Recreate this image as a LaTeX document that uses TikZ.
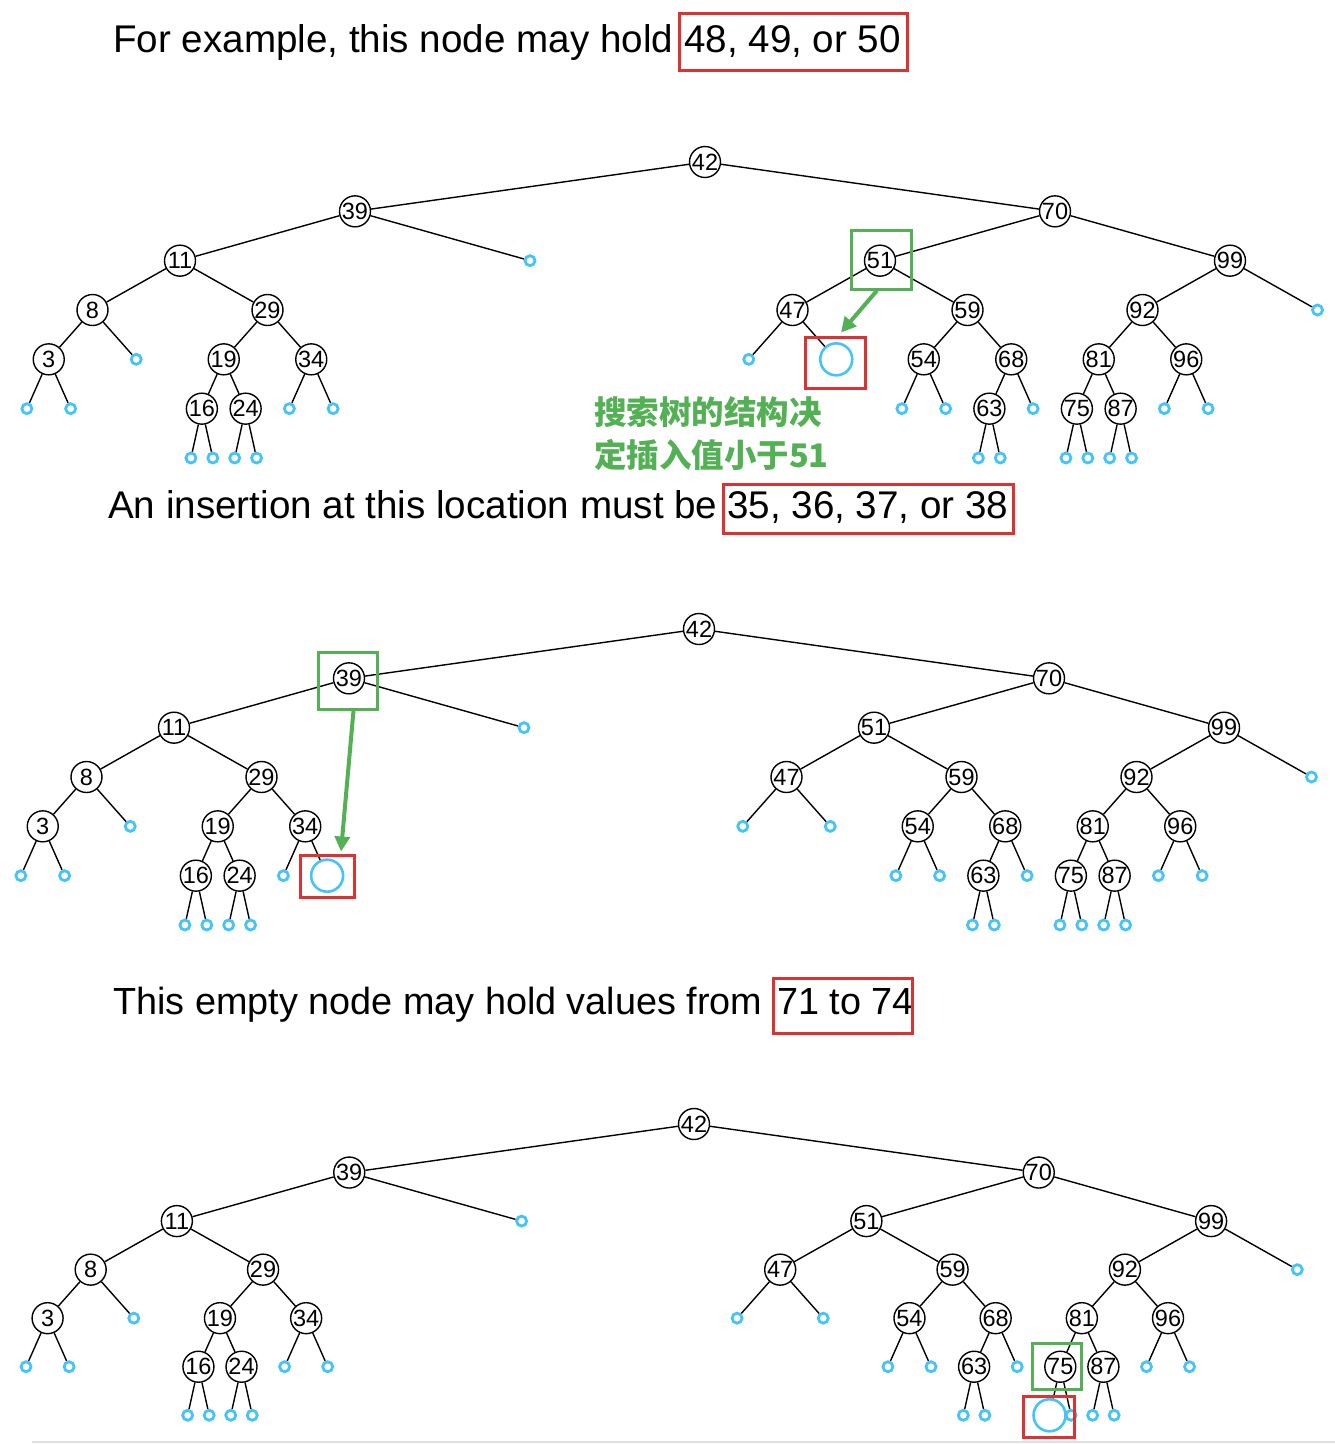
\documentclass[tikz,border=0pt]{standalone}
\usepackage{fontspec}
\setmainfont{Liberation Sans}
\newfontfamily\cjk{Noto Sans CJK SC}
\usetikzlibrary{arrows.meta}
\definecolor{leafc}{RGB}{70,196,250}
\definecolor{grn}{RGB}{84,176,84}
\definecolor{rd}{RGB}{220,50,50}
\tikzset{
  nd/.style={circle,draw,line width=1.4pt,minimum size=31pt,inner sep=0pt,font=\fontsize{23.5}{23.5}\selectfont},
  leaf/.style={circle,draw=leafc,line width=2.8pt,minimum size=10pt,inner sep=0pt},
  bigempty/.style={circle,draw=leafc,line width=2.6pt,minimum size=32pt,inner sep=0pt},
  e47R/.style={leaf}, e34R/.style={leaf}, e75L/.style={leaf},
  edge/.style={line width=1.4pt},
  gbox/.style={draw=grn,line width=3pt,inner sep=0pt},
  rbox/.style={draw=rd,line width=3pt,inner sep=0pt},
  garrow/.style={draw=grn,line width=4pt,-{Triangle[length=15pt,width=15pt]}},
  bigtext/.style={font=\fontsize{38.6}{40}\selectfont,inner sep=0pt},
  bigtextb/.style={font=\fontsize{37.8}{40}\selectfont,inner sep=0pt},
  cntext/.style={font=\cjk\bfseries\fontsize{32.5}{34}\selectfont,text=grn,inner sep=0pt}
}
\newcommand\bstree[1]{%
  \node[nd] (#1-42) at (0,0) {42};
  \node[nd] (#1-39) at (-350,49.33) {39};
  \node[nd] (#1-70) at (350,49.33) {70};
  \node[nd] (#1-11) at (-525,98.67) {11};
  \node[leaf] (#1-l39R) at (-175,98.67) {};
  \node[nd] (#1-51) at (175,98.67) {51};
  \node[nd] (#1-99) at (525,98.67) {99};
  \node[nd] (#1-8) at (-612.5,148) {8};
  \node[nd] (#1-29) at (-437.5,148) {29};
  \node[nd] (#1-47) at (87.5,148) {47};
  \node[nd] (#1-59) at (262.5,148) {59};
  \node[nd] (#1-92) at (437.5,148) {92};
  \node[leaf] (#1-l99R) at (612.5,148) {};
  \node[nd] (#1-3) at (-656.25,197.33) {3};
  \node[leaf] (#1-l8R) at (-568.75,197.33) {};
  \node[nd] (#1-19) at (-481.25,197.33) {19};
  \node[nd] (#1-34) at (-393.75,197.33) {34};
  \node[leaf] (#1-l47L) at (43.75,197.33) {};
  \node[e47R] (#1-l47R) at (131.25,197.33) {};
  \node[nd] (#1-54) at (218.75,197.33) {54};
  \node[nd] (#1-68) at (306.25,197.33) {68};
  \node[nd] (#1-81) at (393.75,197.33) {81};
  \node[nd] (#1-96) at (481.25,197.33) {96};
  \node[leaf] (#1-l3L) at (-678.125,246.67) {};
  \node[leaf] (#1-l3R) at (-634.375,246.67) {};
  \node[nd] (#1-16) at (-503.125,246.67) {16};
  \node[nd] (#1-24) at (-459.375,246.67) {24};
  \node[leaf] (#1-l34L) at (-415.625,246.67) {};
  \node[e34R] (#1-l34R) at (-371.875,246.67) {};
  \node[leaf] (#1-l54L) at (196.875,246.67) {};
  \node[leaf] (#1-l54R) at (240.625,246.67) {};
  \node[nd] (#1-63) at (284.375,246.67) {63};
  \node[leaf] (#1-l68R) at (328.125,246.67) {};
  \node[nd] (#1-75) at (371.875,246.67) {75};
  \node[nd] (#1-87) at (415.625,246.67) {87};
  \node[leaf] (#1-l96L) at (459.375,246.67) {};
  \node[leaf] (#1-l96R) at (503.125,246.67) {};
  \node[leaf] (#1-l16L) at (-514.0625,296) {};
  \node[leaf] (#1-l16R) at (-492.1875,296) {};
  \node[leaf] (#1-l24L) at (-470.3125,296) {};
  \node[leaf] (#1-l24R) at (-448.4375,296) {};
  \node[leaf] (#1-l63L) at (273.4375,296) {};
  \node[leaf] (#1-l63R) at (295.3125,296) {};
  \node[e75L] (#1-l75L) at (360.9375,296) {};
  \node[leaf] (#1-l75R) at (382.8125,296) {};
  \node[leaf] (#1-l87L) at (404.6875,296) {};
  \node[leaf] (#1-l87R) at (426.5625,296) {};
  \foreach \a/\b in {42/39,42/70,39/11,39/l39R,70/51,70/99,11/8,11/29,8/3,8/l8R,3/l3L,3/l3R,
    29/19,29/34,19/16,19/24,16/l16L,16/l16R,24/l24L,24/l24R,34/l34L,34/l34R,
    51/47,51/59,47/l47L,47/l47R,59/54,59/68,54/l54L,54/l54R,68/63,68/l68R,63/l63L,63/l63R,
    99/92,99/l99R,92/81,92/96,81/75,81/87,75/l75L,75/l75R,87/l87L,87/l87R,96/l96L,96/l96R}
    {\draw[edge] (#1-\a) -- (#1-\b);}
}
\begin{document}
\begin{tikzpicture}[x=1pt,y=-1pt]
\useasboundingbox (0,0) rectangle (1335,1444);
\fill[white] (0,0) rectangle (1335,1444);
% ---------- panel 1
\node[bigtext,anchor=base west] (t1) at (113,52) {For example, this node may hold};
\node[bigtext,anchor=base west] (v1) at (684,52) {48, 49, or 50};
\node[rbox,minimum width=228pt,minimum height=57pt] (r1) at (793,41.5) {};
\begin{scope}[shift={(705,162)},e47R/.style={bigempty}]
  \bstree{a}
\end{scope}
\node[gbox,minimum width=60pt,minimum height=59pt] (g1) at (881,259.5) {};
\node[rbox,minimum width=60pt,minimum height=51pt] (rb1) at (835,362.5) {};
\draw[garrow] ([xshift=-4pt]g1.south) -- ([xshift=6pt,yshift=3pt]rb1.north);
\node[cntext,anchor=west] (c1) at (594,412) {搜索树的结构决};
\node[cntext,anchor=west] (c2) at (594,455) {定插入值小于51};
% ---------- panel 2
\node[bigtext,anchor=base west] (t2) at (108,518) {An insertion at this location must be};
\node[bigtext,anchor=base west] (v2) at (727,518) {35, 36, 37, or 38};
\node[rbox,minimum width=290pt,minimum height=49pt] (r2) at (868,508.5) {};
\begin{scope}[shift={(699,629)},e34R/.style={bigempty}]
  \bstree{b}
\end{scope}
\node[gbox,minimum width=59pt,minimum height=57pt] (g2) at (347.5,680.5) {};
\node[rbox,minimum width=54pt,minimum height=42pt] (rb2) at (327,876) {};
\draw[garrow] ([xshift=6pt]g2.south) -- ([xshift=14pt,yshift=2pt]rb2.north);
% ---------- panel 3
\node[bigtextb,anchor=base west] (t3) at (113,1014) {This empty node may hold values from};
\node[bigtextb,anchor=base west] (v3) at (777,1014) {71 to 74};
\node[rbox,minimum width=139pt,minimum height=55pt] (r3) at (842.5,1005.5) {};
\begin{scope}[shift={(694,1124)},xscale=0.985,yscale=0.984,e75L/.style={bigempty}]
  \bstree{c}
\end{scope}
\node[gbox,minimum width=49pt,minimum height=46pt] (g3) at (1056.5,1366) {};
\node[rbox,minimum width=51pt,minimum height=41pt] (rb3) at (1048.5,1416.5) {};
\draw[black!12,line width=2pt] (32,1442) -- (1335,1442);
\end{tikzpicture}
\end{document}
